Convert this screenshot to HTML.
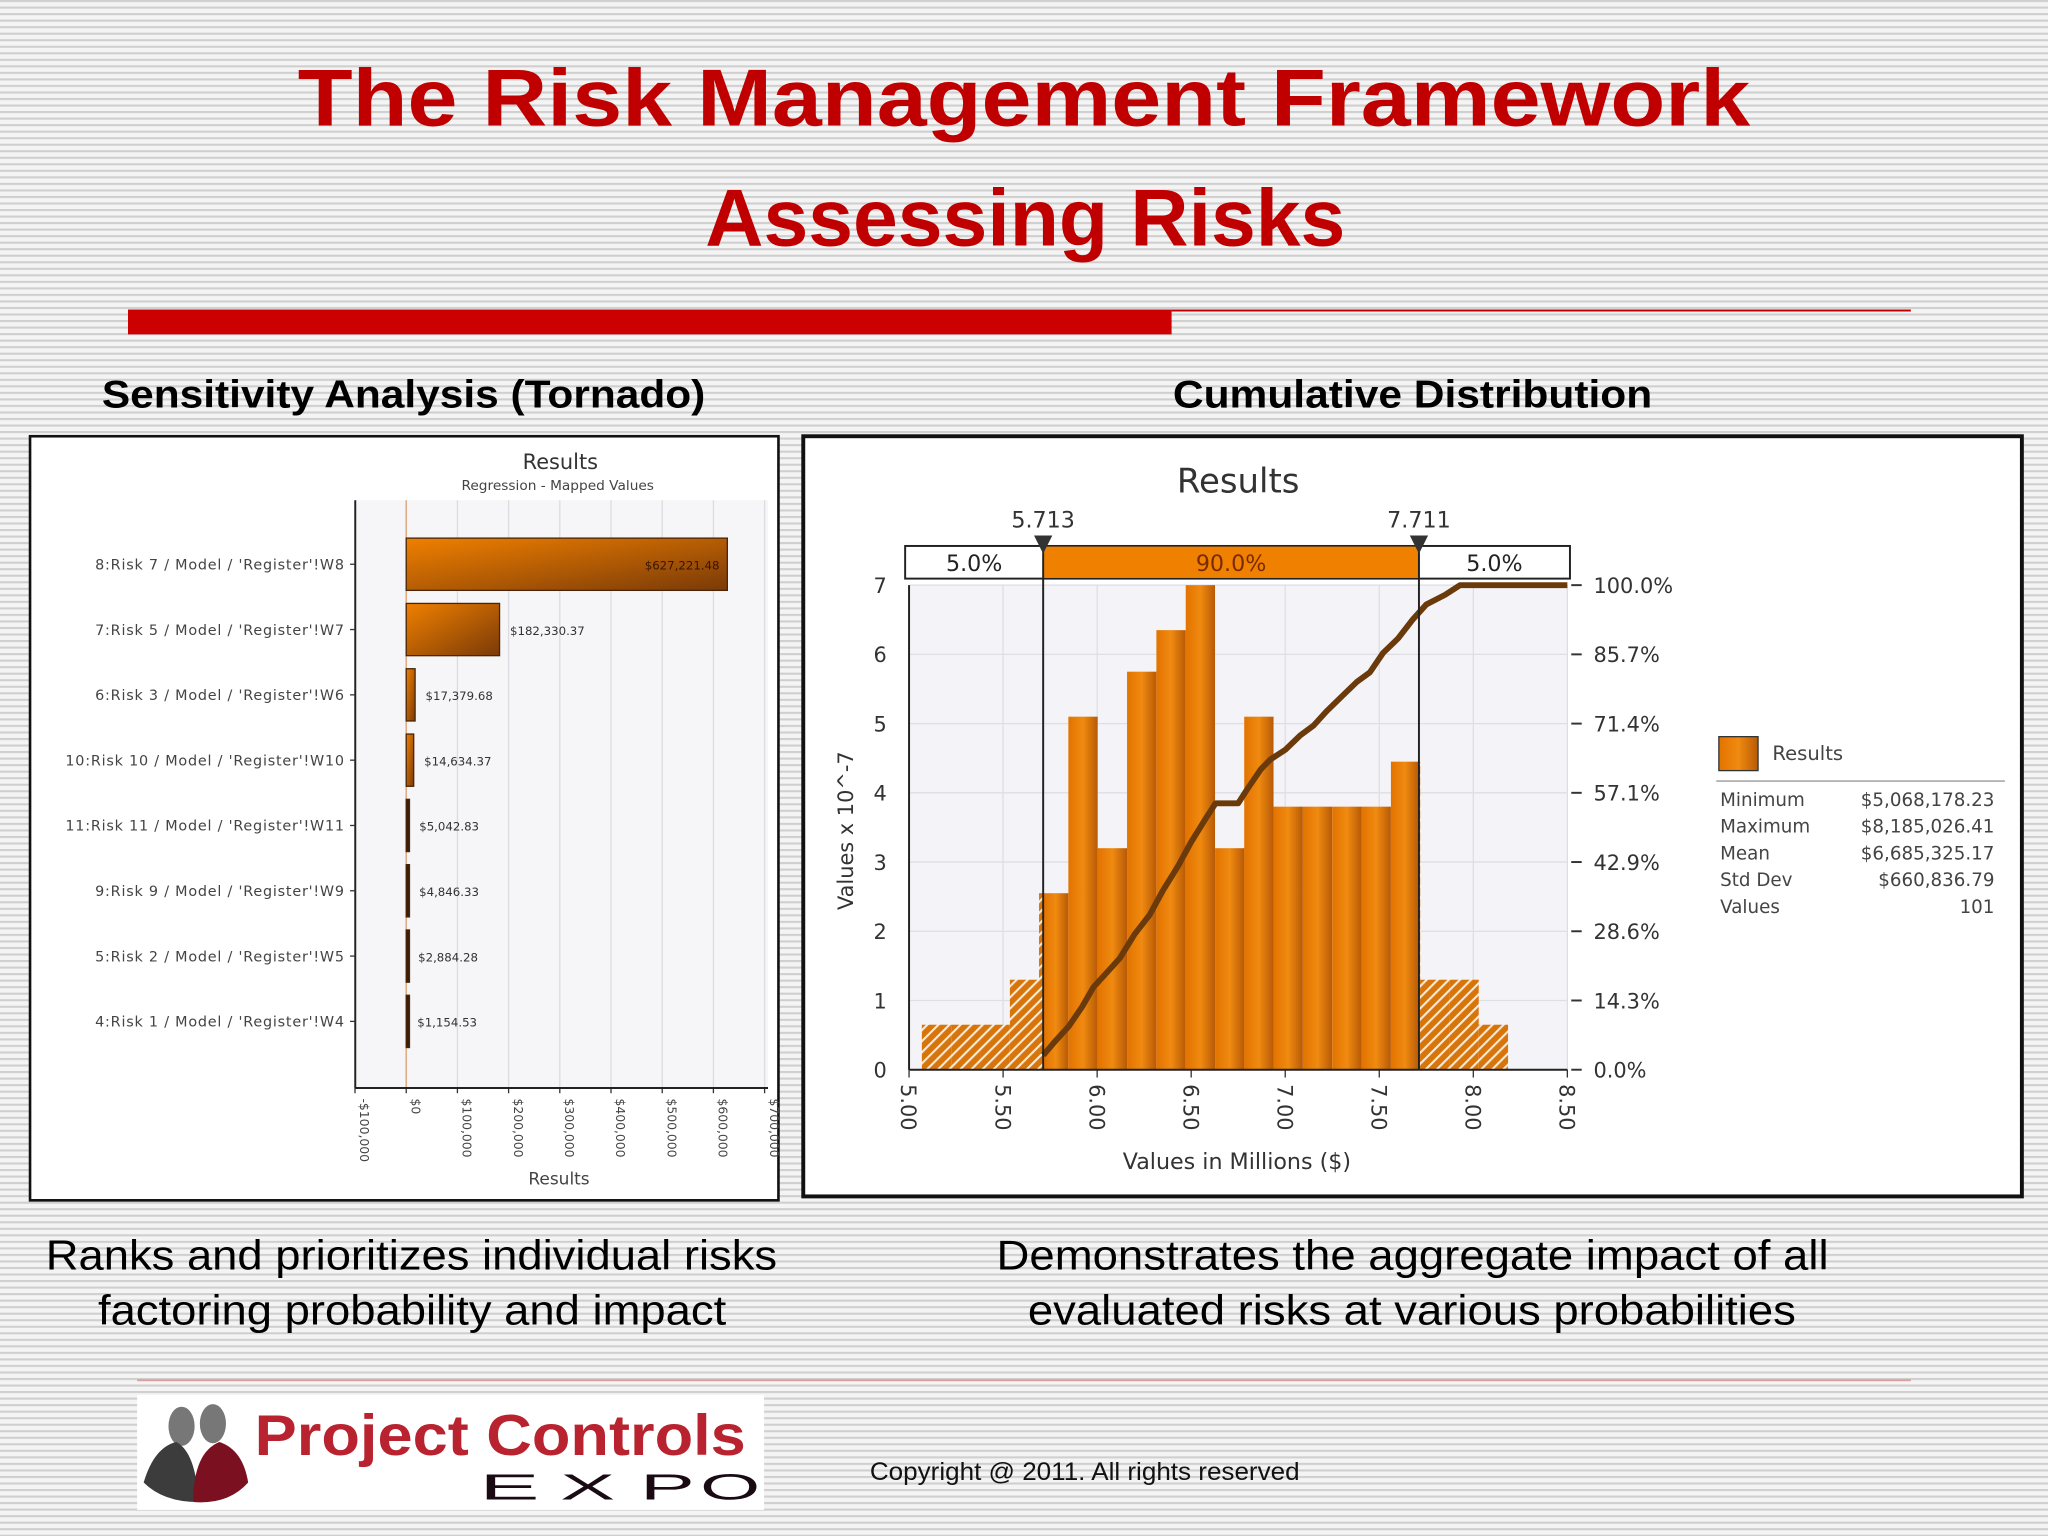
<!DOCTYPE html>
<html><head><meta charset="utf-8"><style>
html,body{margin:0;padding:0;width:2048px;height:1536px;overflow:hidden;background:#fff}
svg{display:block}
</style></head><body>
<svg id="page" width="2048" height="1536" viewBox="0 0 1568 1176" xmlns="http://www.w3.org/2000/svg">
<defs>
<pattern id="stripes" width="10" height="5" patternUnits="userSpaceOnUse"><rect width="10" height="5" fill="#f4f4f4"/><rect y="0" width="10" height="1.6" fill="#cfcfcf"/></pattern>
<linearGradient id="tgrad" x1="0" y1="0" x2="1" y2="1"><stop offset="0" stop-color="#f08000"/><stop offset="1" stop-color="#7a3a08"/></linearGradient>
<linearGradient id="hgrad" x1="0" y1="0" x2="1" y2="0"><stop offset="0" stop-color="#e27300"/><stop offset="0.5" stop-color="#f08a10"/><stop offset="1" stop-color="#b85a06"/></linearGradient>
<pattern id="hatch" width="6" height="6" patternUnits="userSpaceOnUse" patternTransform="rotate(45)"><rect width="6" height="6" fill="#d8750a"/><rect width="1.6" height="6" fill="#fff" opacity="0.85"/></pattern>
</defs>
<rect width="1568" height="1176" fill="url(#stripes)"/>
<g font-family="Liberation Sans, sans-serif">
<text x="228" y="96" font-size="62" font-weight="bold" fill="#c00000" textLength="1112" lengthAdjust="spacingAndGlyphs">The Risk Management Framework</text>
<text x="540" y="188" font-size="62" font-weight="bold" fill="#c00000" textLength="490" lengthAdjust="spacingAndGlyphs">Assessing Risks</text>
<rect x="98" y="237" width="799" height="19" fill="#cc0000"/>
<rect x="897" y="237" width="566" height="1.5" fill="#c00000"/>
<text x="78" y="312" font-size="30" font-weight="bold" fill="#000" textLength="462" lengthAdjust="spacingAndGlyphs">Sensitivity Analysis (Tornado)</text>
<text x="898" y="312" font-size="30" font-weight="bold" fill="#000" textLength="367" lengthAdjust="spacingAndGlyphs">Cumulative Distribution</text>
<text x="35" y="972" font-size="32" fill="#000" textLength="560" lengthAdjust="spacingAndGlyphs">Ranks and prioritizes individual risks</text>
<text x="75" y="1014" font-size="32" fill="#000" textLength="481" lengthAdjust="spacingAndGlyphs">factoring probability and impact</text>
<text x="763" y="972" font-size="32" fill="#000" textLength="637" lengthAdjust="spacingAndGlyphs">Demonstrates the aggregate impact of all</text>
<text x="787" y="1014" font-size="32" fill="#000" textLength="588" lengthAdjust="spacingAndGlyphs">evaluated risks at various probabilities</text>
<rect x="105" y="1056" width="1358" height="1.5" fill="#d9a0a0"/>
<text x="666" y="1133" font-size="19" fill="#111" textLength="329" lengthAdjust="spacingAndGlyphs">Copyright @ 2011. All rights reserved</text>
</g>
<g font-family="Liberation Sans, sans-serif">
<rect x="105" y="1068" width="480" height="88" fill="#fff"/>
<ellipse cx="139" cy="1092" rx="10" ry="15" fill="#777"/>
<ellipse cx="163" cy="1090" rx="10" ry="15" fill="#777"/>
<path d="M110 1135 Q118 1108 135 1104 Q150 1112 152 1150 Q125 1150 110 1135 Z" fill="#3c3c3c"/>
<path d="M148 1150 Q148 1112 168 1104 Q186 1110 190 1135 Q175 1152 148 1150 Z" fill="#7a1020"/>
<text x="195" y="1114" font-size="44" font-weight="bold" fill="#b8232f" textLength="376" lengthAdjust="spacingAndGlyphs">Project Controls</text>
<text x="367" y="1148" font-size="28" fill="#1a0a14" textLength="46" lengthAdjust="spacingAndGlyphs">E</text>
<text x="429" y="1148" font-size="28" fill="#1a0a14" textLength="42" lengthAdjust="spacingAndGlyphs">X</text>
<text x="490" y="1148" font-size="28" fill="#1a0a14" textLength="42" lengthAdjust="spacingAndGlyphs">P</text>
<text x="536" y="1148" font-size="28" fill="#1a0a14" textLength="46" lengthAdjust="spacingAndGlyphs">O</text>
</g>
<g id="tornado" font-family="DejaVu Sans, sans-serif"></g>
<g id="cdf" font-family="DejaVu Sans, sans-serif"></g>
</svg>
<script>
const tornadoLabels = ["8:Risk 7 / Model / 'Register'!W8","7:Risk 5 / Model / 'Register'!W7","6:Risk 3 / Model / 'Register'!W6","10:Risk 10 / Model / 'Register'!W10","11:Risk 11 / Model / 'Register'!W11","9:Risk 9 / Model / 'Register'!W9","5:Risk 2 / Model / 'Register'!W5","4:Risk 1 / Model / 'Register'!W4"];
const tornadoValues = [627221.48,182330.37,17379.68,14634.37,5042.83,4846.33,2884.28,1154.53];
const tornadoValueText = ["$627,221.48","$182,330.37","$17,379.68","$14,634.37","$5,042.83","$4,846.33","$2,884.28","$1,154.53"];
const tornadoTicks = [-100000,0,100000,200000,300000,400000,500000,600000,700000];
const tornadoTickText = ["-$100,000","$0","$100,000","$200,000","$300,000","$400,000","$500,000","$600,000","$700,000"];

const binStarts = [5.068,5.224,5.380,5.536,5.691,5.847,6.003,6.159,6.315,6.471,6.627,6.782,6.938,7.094,7.250,7.406,7.562,7.717,7.873,8.029];
const binHeights = [0.65,0.65,0.65,1.3,2.55,5.1,3.2,5.75,6.35,7,3.2,5.1,3.8,3.8,3.8,3.8,4.45,1.3,1.3,0.65];
const binWidth = 0.1558;
const cumX = [5.713,5.78,5.85,5.92,5.98,6.05,6.12,6.2,6.28,6.35,6.43,6.5,6.58,6.63,6.75,6.8,6.87,6.92,7.0,7.08,7.15,7.22,7.3,7.38,7.45,7.52,7.6,7.68,7.75,7.85,7.93,8.2,8.5];
const cumPct = [3,6,9,13,17,20,23,28,32,37,42,47,52,55,55,58,62,64,66,69,71,74,77,80,82,86,89,93,96,98,100,100,100];
const leftTicks = [0,1,2,3,4,5,6,7];
const rightTickText = ["0.0%","14.3%","28.6%","42.9%","57.1%","71.4%","85.7%","100.0%"];
const xTicks = [5.0,5.5,6.0,6.5,7.0,7.5,8.0,8.5];
const markers = [5.713,7.711];
const statsLabels = ["Minimum","Maximum","Mean","Std Dev","Values"];
const statsValues = ["$5,068,178.23","$8,185,026.41","$6,685,325.17","$660,836.79","101"];

const NS="http://www.w3.org/2000/svg";
function mk(parent,tag,attrs,text){const e=document.createElementNS(NS,tag);for(const k in attrs)e.setAttribute(k,attrs[k]);if(text!==undefined)e.textContent=text;parent.appendChild(e);return e;}

// ---------- Tornado ----------
const T=document.getElementById('tornado');
let e;
e=mk(T,'rect',{x:23,y:334,width:573,height:585,fill:'#fff',stroke:'#111','stroke-width':2});


const tx=v=>311+(v/100000)*39.2;
const tPlotTop=383,tPlotBot=833;
e=mk(T,'rect',{x:272,y:tPlotTop,width:316,height:tPlotBot-tPlotTop,fill:'#f6f6f8'});


tornadoTicks.forEach((v,i)=>{
  e=mk(T,'line',{x1:tx(v),x2:tx(v),y1:tPlotTop,y2:tPlotBot,stroke:i==1?'#d9a070':'#dcdce0','stroke-width':1});
  
  
  e=mk(T,'line',{x1:tx(v),x2:tx(v),y1:tPlotBot,y2:tPlotBot+4,stroke:'#333'});
  
  
  e=mk(T,'text',{x:0,y:0,'font-size':9.5,fill:'#444','text-anchor':'start',transform:`translate(${tx(v)+4},${tPlotBot+8}) rotate(90)`},tornadoTickText[i]);
  
  
});
e=mk(T,'line',{x1:272,x2:272,y1:tPlotTop,y2:tPlotBot,stroke:'#222','stroke-width':1.5});


e=mk(T,'line',{x1:272,x2:588,y1:tPlotBot,y2:tPlotBot,stroke:'#222','stroke-width':1.5});


tornadoValues.forEach((v,i)=>{
  const cy=432+i*50;
  e=mk(T,'text',{x:264,y:cy+4,'font-size':11,fill:'#444','text-anchor':'end','letter-spacing':'0.6'},tornadoLabels[i]);
  
  
  e=mk(T,'line',{x1:268,x2:272,y1:cy,y2:cy,stroke:'#333'});
  
  
  const w=Math.max(tx(v)-tx(0),2.5);
  e=mk(T,'rect',{x:tx(0),y:cy-20,width:w,height:40,fill:w>5?'url(#tgrad)':'#3a1c08',stroke:'#4a2508','stroke-width':1});
  
  
  const inside=w>200;
  e=mk(T,'text',{x:inside?tx(v)-6:tx(v)+8,y:cy+4,'font-size':9,fill:inside?'#3a1400':'#333','text-anchor':inside?'end':'start'},tornadoValueText[i]);
  
  
});
e=mk(T,'text',{x:429,y:359,'font-size':16,fill:'#333','text-anchor':'middle'},'Results');


e=mk(T,'text',{x:427,y:375,'font-size':10.5,fill:'#444','text-anchor':'middle'},'Regression - Mapped Values');


e=mk(T,'text',{x:428,y:907,'font-size':13,fill:'#444','text-anchor':'middle'},'Results');



// ---------- Cumulative ----------
const C=document.getElementById('cdf');
e=mk(C,'rect',{x:615,y:334,width:933,height:582,fill:'#fff',stroke:'#111','stroke-width':3});


const cx=v=>696+(v-5)*144;
const cy=v=>819-v*53;
const py=p=>819-p/100*371;
e=mk(C,'rect',{x:696,y:448,width:504,height:371,fill:'#f4f4f8'});


leftTicks.forEach((v,i)=>{
  e=mk(C,'line',{x1:696,x2:1200,y1:cy(v),y2:cy(v),stroke:'#dedee4'});
  
  
  e=mk(C,'text',{x:679,y:cy(v)+6,'font-size':16,fill:'#333','text-anchor':'end'},String(v));
  
  
  e=mk(C,'line',{x1:1203,x2:1211,y1:cy(v),y2:cy(v),stroke:'#333','stroke-width':1.5});
  
  
  e=mk(C,'text',{x:1220,y:cy(v)+6,'font-size':16,fill:'#333'},rightTickText[i]);
  
  
});
xTicks.forEach(v=>{
  e=mk(C,'line',{x1:cx(v),x2:cx(v),y1:448,y2:819,stroke:'#dedee4'});
  
  
  e=mk(C,'line',{x1:cx(v),x2:cx(v),y1:819,y2:825,stroke:'#333'});
  
  
  e=mk(C,'text',{x:0,y:0,'font-size':16,fill:'#333',transform:`translate(${cx(v)-6},${830}) rotate(90)`},v.toFixed(2));
  
  
});
binHeights.forEach((h,i)=>{
  const x0=binStarts[i], x1=x0+binWidth;
  const segs=[[x0,Math.min(x1,markers[0])],[Math.max(x0,markers[0]),Math.min(x1,markers[1])],[Math.max(x0,markers[1]),x1]];
  segs.forEach((s,k)=>{
    if(s[1]-s[0]<=0.0001)return;
    e=mk(C,'rect',{x:cx(s[0]),y:cy(h),width:cx(s[1])-cx(s[0]),height:cy(0)-cy(h),fill:k==1?'url(#hgrad)':'url(#hatch)'});
    
    
  });
});
let d='';
cumX.forEach((v,i)=>{d+=(i?'L':'M')+cx(v).toFixed(1)+' '+py(cumPct[i]).toFixed(1);});
e=mk(C,'path',{d:d,fill:'none',stroke:'#6a3a0a','stroke-width':4.5,'stroke-linejoin':'round'});


e=mk(C,'line',{x1:696,x2:696,y1:448,y2:819,stroke:'#222','stroke-width':1.5});


e=mk(C,'line',{x1:696,x2:1200,y1:819,y2:819,stroke:'#222','stroke-width':1.5});


e=mk(C,'rect',{x:693,y:418,width:509,height:25,fill:'#fff',stroke:'#222','stroke-width':1.5});


e=mk(C,'rect',{x:cx(markers[0]),y:418,width:cx(markers[1])-cx(markers[0]),height:25,fill:'#f08000',stroke:'#222','stroke-width':1});


[['5.0%',(693+cx(markers[0]))/2,'#222'],['90.0%',(cx(markers[0])+cx(markers[1]))/2,'#7a2a00'],['5.0%',(cx(markers[1])+1202)/2,'#222']].forEach(t=>{
  e=mk(C,'text',{x:t[1],y:437,'font-size':17,fill:t[2],'text-anchor':'middle'},t[0]);
  
  
});
markers.forEach(m=>{
  e=mk(C,'line',{x1:cx(m),x2:cx(m),y1:418,y2:819,stroke:'#222','stroke-width':1.5});
  
  
  e=mk(C,'path',{d:`M${cx(m)-7} 410 L${cx(m)+7} 410 L${cx(m)} 424 Z`,fill:'#333'});
  
  
  e=mk(C,'text',{x:cx(m),y:404,'font-size':17,fill:'#333','text-anchor':'middle'},m.toFixed(3));
  
  
});
e=mk(C,'text',{x:948,y:377,'font-size':26,fill:'#333','text-anchor':'middle'},'Results');


e=mk(C,'text',{x:0,y:0,'font-size':16,fill:'#333','text-anchor':'middle',transform:'translate(653,636) rotate(-90)'},'Values x 10^-7');


e=mk(C,'text',{x:947,y:895,'font-size':17,fill:'#333','text-anchor':'middle'},'Values in Millions ($)');


e=mk(C,'rect',{x:1316,y:564,width:30,height:26,fill:'url(#hgrad)',stroke:'#333'});


e=mk(C,'text',{x:1357,y:582,'font-size':15,fill:'#444'},'Results');


e=mk(C,'line',{x1:1314,x2:1535,y1:598,y2:598,stroke:'#999'});


statsLabels.forEach((l,i)=>{
  const y=617+i*20.5;
  e=mk(C,'text',{x:1317,y:y,'font-size':14,fill:'#444'},l);
  
  
  e=mk(C,'text',{x:1527,y:y,'font-size':14,fill:'#444','text-anchor':'end'},statsValues[i]);
  
  
});
</script>
</body></html>
